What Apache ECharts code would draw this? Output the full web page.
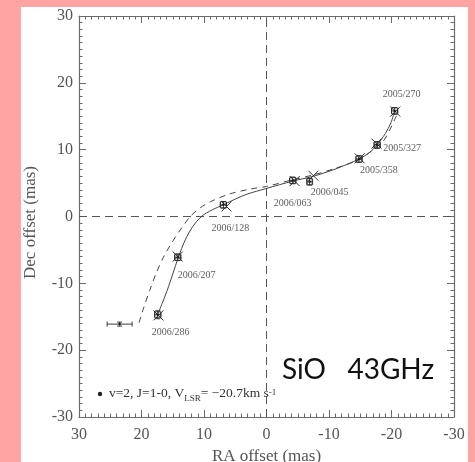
<!DOCTYPE html>
<html>
<head>
<meta charset="utf-8">
<script src="https://cdn.jsdelivr.net/npm/echarts@6/dist/echarts.min.js"></script>
<style>
  html, body { margin: 0; padding: 0; background: #ffa3a3; }
  #chart { width: 475px; height: 462px; }
</style>
</head>
<body>
<div id="chart"></div>
<script>
// Observed maser spot positions per epoch (RA / Dec offsets in mas)
const epochs   = ['2005/270', '2005/327', '2005/358', '2006/045', '2006/063', '2006/128', '2006/207', '2006/286'];
const obsRA    = [-20.5, -17.7, -14.8, -6.9, -4.2, 6.9, 14.2, 17.4];
const obsDec   = [15.8, 10.7, 8.6, 5.2, 5.4, 1.75, -6.1, -14.7];
const obsRAErr = [0.5, 0.5, 0.5, 0.4, 0.5, 0.5, 0.5, 0.5];
const obsDecErr= [0.5, 0.5, 0.5, 0.5, 0.5, 0.5, 0.5, 0.6];

// Model positions (crosses) for the same epochs
const modelRA  = [-20.6, -17.6, -14.9, -7.5, -4.5, 6.4, 14.2, 17.3];
const modelDec = [15.7, 10.9, 8.7, 6.1, 5.3, 1.5, -6.0, -14.8];

// Isolated detection with large RA uncertainty
const extraRA = [23.5];
const extraDec = [-16.1];
const extraRAErr = [2.0];
const extraDecErr = [0.3];

// Fitted trajectory (solid)
const fitRA  = [17.4, 16.7, 15.9, 15.0, 14.1, 13.0, 11.8, 10.4, 8.7, 6.9, 5.0, 3.1, 0.0, -4.2, -7.4, -11.0, -14.8, -16.5, -17.7, -19.0, -19.9, -20.5];
const fitDec = [-14.7, -13.0, -11.1, -8.6, -6.1, -3.5, -1.5, 0.0, 1.0, 1.75, 2.6, 3.35, 4.2, 5.3, 6.0, 7.1, 8.6, 9.6, 10.7, 12.4, 14.0, 15.8];

// Alternative trajectory (dashed)
const altRA  = [20.4, 19.6, 18.7, 17.7, 16.5, 15.2, 13.8, 12.2, 10.6, 9.0, 6.0, 2.6, 0.0, -4.2, -7.4, -11.0, -14.8, -16.8, -18.7, -19.8, -20.5, -20.9];
const altDec = [-15.9, -13.5, -11.1, -8.6, -6.1, -4.0, -2.0, 0.0, 1.3, 2.2, 3.35, 4.1, 4.5, 5.5, 6.2, 7.2, 8.5, 9.8, 11.3, 13.1, 14.5, 15.3];

// Axis ticks
const axisMin = -30, axisMax = 30, axisStep = 10;

// Epoch label placement: [dx, dy] from the point to the label's left-middle
const labelPlacement = {
  '2005/270': [-12, -17],
  '2005/327': [6, 3],
  '2005/358': [1, 11],
  '2006/045': [1, 11],
  '2006/063': [-19, 23],
  '2006/128': [-12, 24],
  '2006/207': [0, 18],
  '2006/286': [-6, 18]
};

const ink = '#3a3a3a';
const axisColor = '#6a6a6a';
const serif = '"Liberation Serif", "DejaVu Serif", serif';

const zip = (a, b) => a.map((v, i) => [v, b[i]]);

const chart = echarts.init(document.getElementById('chart'), null, { renderer: 'canvas' });

function baseAxis(extra) {
  return Object.assign({
    type: 'value',
    min: axisMin,
    max: axisMax,
    interval: axisStep,
    axisLine: { show: true, onZero: false, lineStyle: { color: axisColor, width: 1.2 } },
    axisTick: { show: true, inside: true, length: 7, lineStyle: { color: axisColor, width: 1 } },
    minorTick: { show: true, splitNumber: 10, length: 3.5, lineStyle: { color: axisColor, width: 1 } },
    splitLine: { show: false },
    axisLabel: { color: '#555', fontFamily: serif, fontSize: 16 }
  }, extra);
}

const option = {
  animation: false,
  backgroundColor: 'transparent',
  graphic: [
    { type: 'rect', z: -10, shape: { x: 21, y: 7, width: 447, height: 460 }, style: { fill: '#ffffff' }, silent: true },
    { type: 'circle', z: 10, shape: { cx: 100, cy: 394, r: 2.2 }, style: { fill: '#222' } },
    {
      type: 'text', z: 10, left: 109, top: 385,
      style: {
        text: '{a|v=2, J=1-0, V}{s|LSR}{a|= \u221220.7km s}{p|-1}',
        rich: {
          a: { fontFamily: serif, fontSize: 13.5, fill: '#333', lineHeight: 15, verticalAlign: 'bottom' },
          s: { fontFamily: serif, fontSize: 9, fill: '#333', verticalAlign: 'bottom', lineHeight: 9, padding: [0, 0, -3, 0] },
          p: { fontFamily: serif, fontSize: 9, fill: '#333', verticalAlign: 'top', lineHeight: 9, padding: [3, 0, 0, 0] }
        }
      }
    },
    {
      type: 'text', z: 10, left: 282, top: 356,
      style: { text: 'SiO   43GHz', fontFamily: 'Lato, "Open Sans", sans-serif', fontSize: 28, fill: '#111' }
    }
  ],
  grid: { left: 79, right: 21, top: 16, bottom: 45, containLabel: false, outerBoundsMode: 'none' },
  xAxis: [
    baseAxis({
      inverse: true,
      position: 'bottom',
      name: 'RA offset (mas)',
      nameLocation: 'middle',
      nameGap: 25,
      nameTextStyle: { color: '#555', fontFamily: serif, fontSize: 17 },
      axisLabel: { color: '#555', fontFamily: serif, fontSize: 16, margin: 10 }
    }),
    baseAxis({ inverse: true, position: 'top', axisLabel: { show: false } })
  ],
  yAxis: [
    baseAxis({
      position: 'left',
      name: 'Dec offset (mas)',
      nameLocation: 'middle',
      nameGap: 40,
      nameTextStyle: { color: '#555', fontFamily: serif, fontSize: 17, padding: [0, 12, 0, 0] },
      axisLabel: { color: '#555', fontFamily: serif, fontSize: 16, margin: 6 }
    }),
    baseAxis({ position: 'right', axisLabel: { show: false } })
  ],
  series: [
    // Zero reference lines
    {
      type: 'line', data: [[0, axisMin], [0, axisMax]], symbol: 'none', silent: true,
      lineStyle: { color: '#555', width: 1, type: [8, 5] }
    },
    {
      type: 'line', data: [[axisMax, 0], [axisMin, 0]], symbol: 'none', silent: true,
      lineStyle: { color: '#555', width: 1, type: [8, 5] }
    },
    // Alternative trajectory
    {
      type: 'line', data: zip(altRA, altDec), symbol: 'none', smooth: 0.3, silent: true,
      lineStyle: { color: '#444', width: 1, type: [6, 5] }
    },
    // Fitted trajectory
    {
      type: 'line', data: zip(fitRA, fitDec), symbol: 'none', smooth: 0.3, silent: true,
      lineStyle: { color: '#444', width: 1 }
    },
    // Error bars of observed positions
    {
      type: 'custom', silent: true, z: 4,
      data: zip(obsRA, obsDec).map((p, i) => [p[0], p[1], obsRAErr[i], obsDecErr[i]])
        .concat(zip(extraRA, extraDec).map((p, i) => [p[0], p[1], extraRAErr[i], extraDecErr[i]])),
      renderItem: function (params, api) {
        const x = api.value(0), y = api.value(1), ex = api.value(2), ey = api.value(3);
        const l = api.coord([x + ex, y]), r = api.coord([x - ex, y]);
        const b = api.coord([x, y - ey]), t = api.coord([x, y + ey]);
        const cap = 2.5;
        const style = { stroke: ink, lineWidth: 1 };
        return {
          type: 'group',
          children: [
            { type: 'line', shape: { x1: l[0], y1: l[1], x2: r[0], y2: r[1] }, style },
            { type: 'line', shape: { x1: l[0], y1: l[1] - cap, x2: l[0], y2: l[1] + cap }, style },
            { type: 'line', shape: { x1: r[0], y1: r[1] - cap, x2: r[0], y2: r[1] + cap }, style },
            { type: 'line', shape: { x1: b[0], y1: b[1], x2: t[0], y2: t[1] }, style },
            { type: 'line', shape: { x1: b[0] - cap, y1: b[1], x2: b[0] + cap, y2: b[1] }, style },
            { type: 'line', shape: { x1: t[0] - cap, y1: t[1], x2: t[0] + cap, y2: t[1] }, style }
          ]
        };
      }
    },
    // Model positions drawn as crosses
    {
      type: 'custom', silent: true, z: 5,
      data: zip(modelRA, modelDec),
      renderItem: function (params, api) {
        const c = api.coord([api.value(0), api.value(1)]);
        const h = 5;
        const style = { stroke: '#333', lineWidth: 1 };
        return {
          type: 'group',
          children: [
            { type: 'line', shape: { x1: c[0] - h, y1: c[1] - h, x2: c[0] + h, y2: c[1] + h }, style },
            { type: 'line', shape: { x1: c[0] - h, y1: c[1] + h, x2: c[0] + h, y2: c[1] - h }, style }
          ]
        };
      }
    },
    // Observed positions: open squares with epoch labels
    {
      type: 'scatter', z: 6,
      symbol: 'rect', symbolSize: 6,
      itemStyle: { color: 'rgba(0,0,0,0)', borderColor: '#222', borderWidth: 1 },
      data: zip(obsRA, obsDec).map((p, i) => ({
        value: p,
        name: epochs[i],
        label: {
          show: true,
          position: 'inside',
          align: 'left',
          verticalAlign: 'middle',
          offset: labelPlacement[epochs[i]],
          formatter: epochs[i],
          fontFamily: serif,
          fontSize: 10,
          color: '#333'
        }
      }))
    },
    // Central dots of observed positions
    {
      type: 'scatter', z: 7, silent: true,
      symbol: 'circle', symbolSize: 2.5,
      itemStyle: { color: '#111' },
      data: zip(obsRA, obsDec).concat(zip(extraRA, extraDec))
    }
  ]
};

chart.setOption(option);
</script>
</body>
</html>
